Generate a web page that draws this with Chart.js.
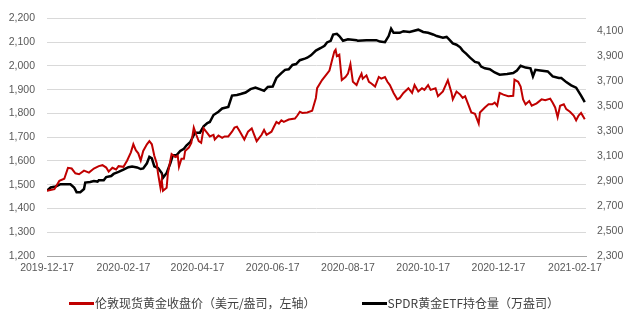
<!DOCTYPE html>
<html>
<head>
<meta charset="utf-8">
<script src="https://cdn.jsdelivr.net/npm/chart.js@4.4.1/dist/chart.umd.min.js"></script>
<style>
html, body { margin: 0; padding: 0; background: #fff; }
#wrap { position: relative; width: 628px; height: 316px; }
#legend {
    position: absolute; left: 0; right: 0; top: 295px;
    display: flex; justify-content: center; gap: 46px;
    font: 12px "Noto Sans CJK SC", sans-serif; color: #404040; line-height: 16px;
    white-space: nowrap;
}
#legend .swatch { display: inline-block; width: 25px; height: 3px; vertical-align: middle; margin-right: 1px; position: relative; top: -1px; }
</style>
</head>
<body>
<div id="wrap">
    <canvas id="chart" width="628" height="316"></canvas>
    <div id="legend"></div>
</div>
<script>
// 伦敦现货黄金收盘价（美元/盎司）
const goldDates = [
    '2019-12-17','2019-12-23','2019-12-27','2019-12-31','2020-01-03','2020-01-06','2020-01-09','2020-01-12','2020-01-16','2020-01-20','2020-01-24','2020-01-28','2020-01-31',
    '2020-02-03','2020-02-05','2020-02-08','2020-02-11','2020-02-13','2020-02-17','2020-02-20','2020-02-23','2020-02-25','2020-02-27','2020-02-29',
    '2020-03-02','2020-03-04','2020-03-07','2020-03-09','2020-03-11','2020-03-13','2020-03-15','2020-03-16','2020-03-18','2020-03-19','2020-03-20','2020-03-23','2020-03-24','2020-03-27','2020-03-30',
    '2020-04-01','2020-04-02','2020-04-04','2020-04-06','2020-04-07','2020-04-10','2020-04-12','2020-04-14','2020-04-16','2020-04-18','2020-04-20','2020-04-22','2020-04-25','2020-04-27','2020-04-30',
    '2020-05-01','2020-05-04','2020-05-07','2020-05-09','2020-05-12','2020-05-15','2020-05-17','2020-05-19','2020-05-21','2020-05-25','2020-05-28','2020-05-31',
    '2020-06-02','2020-06-04','2020-06-08','2020-06-10','2020-06-12','2020-06-16','2020-06-18','2020-06-20','2020-06-22','2020-06-24','2020-06-26','2020-06-30',
    '2020-07-05','2020-07-07','2020-07-09','2020-07-11','2020-07-15','2020-07-19','2020-07-22','2020-07-23','2020-07-27','2020-07-30',
    '2020-08-02','2020-08-04','2020-08-06','2020-08-07','2020-08-08','2020-08-10','2020-08-12','2020-08-15','2020-08-17','2020-08-19','2020-08-21','2020-08-24','2020-08-26','2020-08-28','2020-08-29',
    '2020-09-01','2020-09-03','2020-09-05','2020-09-08','2020-09-11','2020-09-13','2020-09-16','2020-09-18','2020-09-20','2020-09-23','2020-09-26','2020-09-28',
    '2020-10-01','2020-10-05','2020-10-08','2020-10-10','2020-10-13','2020-10-16','2020-10-18','2020-10-21','2020-10-23','2020-10-27','2020-10-29',
    '2020-11-02','2020-11-06','2020-11-09','2020-11-10','2020-11-13','2020-11-16','2020-11-18','2020-11-20','2020-11-23','2020-11-25','2020-11-28',
    '2020-12-01','2020-12-02','2020-12-06','2020-12-09','2020-12-12','2020-12-14','2020-12-16','2020-12-18','2020-12-21','2020-12-25','2020-12-29','2020-12-30',
    '2021-01-02','2021-01-04','2021-01-06','2021-01-08','2021-01-11','2021-01-13','2021-01-17','2021-01-21','2021-01-24','2021-01-28','2021-01-30',
    '2021-02-01','2021-02-03','2021-02-05','2021-02-08','2021-02-10','2021-02-13','2021-02-16','2021-02-18','2021-02-20','2021-02-22','2021-02-25'
];
const goldPrice = [
    1474,1481,1516,1525,1571,1568,1548,1544,1559,1551,1568,1578,1582,
    1572,1555,1571,1564,1578,1575,1602,1636,1670,1645,1632,
    1602,1642,1670,1683,1670,1622,1589,1548,1487,1521,1474,1487,1548,1629,1616,
    1622,1575,1609,1609,1642,1656,1676,1740,1710,1683,1676,1737,1717,1703,1710,
    1690,1707,1697,1703,1703,1723,1740,1744,1727,1690,1723,1737,
    1710,1683,1710,1730,1710,1723,1744,1764,1757,1771,1764,1774,
    1778,1791,1807,1802,1804,1811,1865,1906,1940,1960,
    1980,2021,2061,2068,2041,2047,1940,1953,1967,2007,1933,1919,1946,1967,1946,
    1960,1933,1926,1913,1953,1946,1953,1933,1919,1886,1859,1865,
    1886,1906,1886,1919,1892,1906,1899,1919,1899,1906,1872,
    1892,1940,1886,1859,1892,1879,1865,1872,1832,1804,1798,
    1757,1804,1825,1838,1838,1845,1832,1886,1879,1872,1874,1942,
    1933,1913,1859,1838,1852,1832,1842,1859,1855,1862,1845,
    1825,1784,1832,1838,1818,1807,1791,1771,1791,1802,1775
];

// SPDR黄金ETF持仓量（万盎司）
const etfDates = [
    '2019-12-17','2019-12-20','2019-12-24','2019-12-28','2020-01-05','2020-01-08','2020-01-10','2020-01-13','2020-01-16','2020-01-17','2020-01-21','2020-01-24','2020-01-27','2020-01-28',
    '2020-02-01','2020-02-03','2020-02-07','2020-02-09','2020-02-13','2020-02-17','2020-02-21','2020-02-24','2020-02-28',
    '2020-03-02','2020-03-04','2020-03-07','2020-03-09','2020-03-11','2020-03-13','2020-03-16','2020-03-19','2020-03-20','2020-03-23','2020-03-26','2020-03-28','2020-03-31',
    '2020-04-03','2020-04-06','2020-04-08','2020-04-11','2020-04-13','2020-04-15','2020-04-19','2020-04-22','2020-04-25','2020-04-27','2020-04-30',
    '2020-05-04','2020-05-07','2020-05-12','2020-05-15','2020-05-19','2020-05-22','2020-05-26','2020-05-30',
    '2020-06-03','2020-06-08','2020-06-10','2020-06-13','2020-06-17','2020-06-20','2020-06-24','2020-06-27','2020-06-30',
    '2020-07-03','2020-07-06','2020-07-09','2020-07-13','2020-07-15','2020-07-18','2020-07-22','2020-07-26','2020-07-29','2020-07-31',
    '2020-08-03','2020-08-05','2020-08-08','2020-08-10','2020-08-13','2020-08-17','2020-08-24','2020-08-25',
    '2020-09-01','2020-09-09','2020-09-12','2020-09-16','2020-09-19','2020-09-21','2020-09-23','2020-09-28',
    '2020-10-01','2020-10-06','2020-10-13','2020-10-17','2020-10-21','2020-10-25','2020-10-28',
    '2020-11-02','2020-11-05','2020-11-07','2020-11-10','2020-11-13','2020-11-16','2020-11-18','2020-11-21','2020-11-24','2020-11-28',
    '2020-12-01','2020-12-03','2020-12-06','2020-12-10','2020-12-14','2020-12-18','2020-12-24','2020-12-29',
    '2021-01-01','2021-01-04','2021-01-08','2021-01-12','2021-01-14','2021-01-16','2021-01-20','2021-01-26','2021-01-30',
    '2021-02-04','2021-02-06','2021-02-10','2021-02-14','2021-02-18','2021-02-22','2021-02-25'
];
const etfHoldings = [
    2823,2848,2856,2874,2874,2848,2810,2810,2835,2887,2892,2900,2895,2905,
    2905,2931,2939,2956,2972,2990,3010,3016,3008,
    2995,3000,3041,3093,3080,3016,3003,2964,2925,2964,3041,3105,3105,
    3139,3157,3183,3209,3247,3286,3286,3337,3363,3371,3427,
    3453,3479,3491,3582,3587,3595,3607,3634,
    3646,3628,3620,3651,3654,3723,3762,3788,3793,
    3827,3834,3865,3878,3885,3904,3942,3963,3981,4007,
    4020,4070,4076,4058,4020,4032,4025,4020,
    4025,4025,4014,4009,4058,4117,4084,4084,
    4097,4091,4109,4091,4084,4071,4058,
    4045,4051,4032,3999,3989,3968,3942,3916,3885,3852,
    3844,3814,3800,3793,3767,3749,3754,3762,
    3783,3821,3806,3800,3736,3788,3783,3775,3736,
    3723,3723,3690,3664,3646,3582,3530
];

// 坐标轴
const tickDates = ['2019-12-17','2020-02-17','2020-04-17','2020-06-17','2020-08-17','2020-10-17','2020-12-17','2021-02-17'];
const axisEndDate = '2021-02-26';
const leftTicks = [1200,1300,1400,1500,1600,1700,1800,1900,2000,2100,2200];
const rightTicks = [2300,2500,2700,2900,3100,3300,3500,3700,3900,4100];
const rightMax = 4200;

const start = Date.UTC(2019, 11, 17);
function toDay(s) {
    const [y, m, d] = s.split('-').map(Number);
    return (Date.UTC(y, m - 1, d) - start) / 86400000;
}
const tickDays = tickDates.map(toDay);

const tickFont = { family: '"Liberation Sans", Arial, sans-serif', size: 10.5 };
const tickColor = '#595959';

const datasets = [
    {
        label: '伦敦现货黄金收盘价（美元/盎司，左轴）',
        data: goldDates.map((d, i) => ({ x: toDay(d), y: goldPrice[i] })),
        borderColor: '#C00000',
        backgroundColor: '#C00000',
        borderWidth: 2,
        yAxisID: 'y'
    },
    {
        label: 'SPDR黄金ETF持仓量（万盎司）',
        data: etfDates.map((d, i) => ({ x: toDay(d), y: etfHoldings[i] })),
        borderColor: '#000000',
        backgroundColor: '#000000',
        borderWidth: 2.5,
        yAxisID: 'y2'
    }
];

const chart = new Chart(document.getElementById('chart'), {
    type: 'line',
    data: { datasets },
    options: {
        responsive: false,
        animation: false,
        layout: { padding: { top: 9, left: 0, right: 0, bottom: 40 } },
        elements: { point: { radius: 0 }, line: { tension: 0 } },
        plugins: { legend: { display: false }, tooltip: { enabled: false } },
        scales: {
            x: {
                type: 'linear',
                min: 0,
                max: toDay(axisEndDate),
                afterBuildTicks: s => { s.ticks = tickDays.map(v => ({ value: v })); },
                afterFit: s => { s.height = 20; },
                ticks: {
                    autoSkip: false, maxRotation: 0, padding: 6,
                    color: tickColor, font: tickFont,
                    callback: (v, i) => tickDates[i]
                },
                grid: { display: false, drawTicks: false },
                border: { display: true, color: '#a6a6a6', width: 1 }
            },
            y: {
                position: 'left',
                min: leftTicks[0],
                max: leftTicks[leftTicks.length - 1],
                afterBuildTicks: s => { s.ticks = leftTicks.map(v => ({ value: v })); },
                afterFit: s => { s.width = 47; },
                ticks: {
                    padding: 12, color: tickColor, font: tickFont,
                    callback: v => v.toLocaleString('en-US')
                },
                grid: { color: '#d9d9d9', lineWidth: 1, drawTicks: false },
                border: { display: false }
            },
            y2: {
                position: 'right',
                min: rightTicks[0],
                max: rightMax,
                afterBuildTicks: s => { s.ticks = rightTicks.map(v => ({ value: v })); },
                afterFit: s => { s.width = 42; },
                ticks: {
                    padding: 11, color: tickColor, font: tickFont,
                    callback: v => v.toLocaleString('en-US')
                },
                grid: { display: false, drawTicks: false },
                border: { display: false }
            }
        }
    }
});

// 图例
const legend = document.getElementById('legend');
chart.data.datasets.forEach(ds => {
    const item = document.createElement('span');
    item.innerHTML = `<span class="swatch" style="background:${ds.borderColor}"></span>${ds.label}`;
    legend.appendChild(item);
});
</script>
</body>
</html>
